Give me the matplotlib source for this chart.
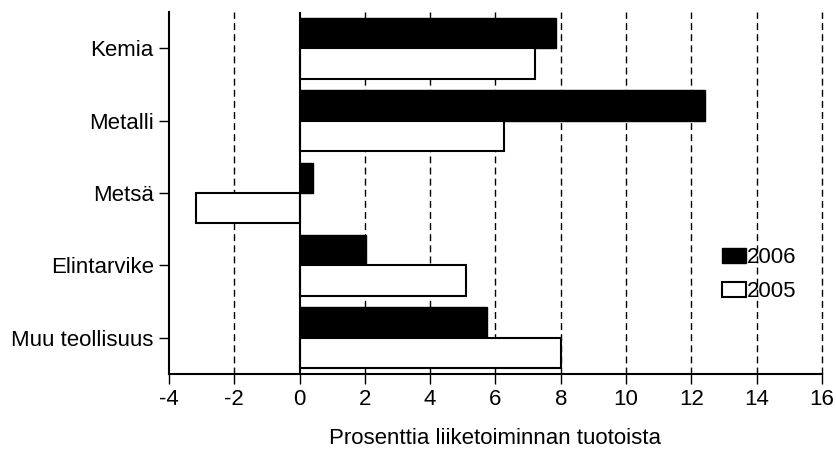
import matplotlib
matplotlib.use("Agg")
import matplotlib.pyplot as plt
import numpy as np

categories = ["Kemia", "Metalli", "Metsä", "Elintarvike", "Muu teollisuus"]
values_2006 = [7.87, 12.43, 0.4, 2.02, 5.75]
values_2005 = [7.2, 6.25, -3.18, 5.1, 8.0]
xticks = [-4, -2, 0, 2, 4, 6, 8, 10, 12, 14, 16]

plt.rcParams['font.family'] = ['Liberation Sans', 'DejaVu Sans']

fig = plt.figure(figsize=(8.36, 4.53), dpi=100)
ax = fig.add_axes([0.2022, 0.1744, 0.983 - 0.2022, 0.9735 - 0.1744])

y = np.arange(len(categories))
h = 0.42
ax.barh(y - h / 2, values_2006, height=h, color='black', edgecolor='black', linewidth=1, label='2006', zorder=3)
ax.barh(y + h / 2, values_2005, height=h, color='white', edgecolor='black', linewidth=1.5, label='2005', zorder=3)

ax.set_ylim(len(categories) - 0.5, -0.5)
ax.set_xlim(-4, 16)
ax.set_xticks(xticks)
ax.set_xticklabels([str(t) for t in xticks])
ax.set_yticks(y)
ax.set_yticklabels(categories)

for t in xticks[1:]:
    if t == 0:
        ax.axvline(0, color='black', lw=1.5, zorder=4)
    else:
        ax.axvline(t, color='black', lw=1, ls=(0, (5, 3)), zorder=1, clip_on=False)

for s in ['top', 'right']:
    ax.spines[s].set_visible(False)
ax.spines['left'].set_linewidth(1.5)
ax.spines['bottom'].set_linewidth(1.5)
ax.tick_params(axis='both', labelsize=16, length=7, width=1, direction='out', colors='black')
ax.tick_params(axis='x', pad=4)
ax.tick_params(axis='y', pad=4)

ax.set_xlabel("Prosenttia liiketoiminnan tuotoista", fontsize=16, labelpad=13)

leg = ax.legend(loc='upper left', bbox_to_anchor=(0.834, 0.375), frameon=False, fontsize=16,
                handlelength=1.05, handleheight=0.7, handletextpad=0.05, labelspacing=0.6,
                borderaxespad=0)

fig.savefig("out.png", dpi=100)
